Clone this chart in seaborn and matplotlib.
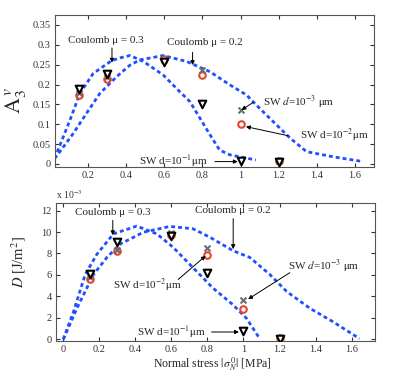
"""
Rebuild of the A3v / D versus normal stress figure (Coulomb vs SW).
"""

import matplotlib
matplotlib.use("Agg")
import matplotlib.pyplot as plt
import seaborn as sns

# marker data (sigma_N in MPa)
stress = [0.15, 0.3, 0.6, 0.8, 1.0, 1.2]
A_sw1 = [0.188, 0.227, 0.257, 0.150, 0.008, 0.006]   # d = 1e-1 um
A_sw2 = [0.174, 0.215, 0.264, 0.224, 0.101, 0.008]   # d = 1e-2 um
A_sw3 = [0.178, 0.220, 0.262, 0.237, 0.136, 0.007]   # d = 1e-3 um
D_sw1 = [6.10, 9.04, 9.60, 6.14, 0.76, 0.07]         # x 1e-3 J/m2
D_sw2 = [5.67, 8.20, 9.70, 7.85, 2.84, 0.10]
D_sw3 = [5.80, 8.30, 9.90, 8.50, 3.69, 0.05]

# Coulomb curves
A_mu03_x = [0, 0.035, 0.105, 0.157, 0.227, 0.323, 0.367, 0.42, 0.49, 0.594,
            0.664, 0.734, 0.787, 0.84, 0.89, 0.944, 1.08]
A_mu03_y = [0, 0.027, 0.111, 0.178, 0.228, 0.260, 0.267, 0.273, 0.258, 0.224,
            0.19, 0.157, 0.115, 0.073, 0.035, 0.023, 0.010]
A_mu02_x = [0, 0.035, 0.122, 0.192, 0.262, 0.35, 0.42, 0.472, 0.594, 0.717,
            0.84, 0.944, 1.03, 1.10, 1.17, 1.26, 1.346, 1.486, 1.643]
A_mu02_y = [0, 0.02, 0.077, 0.128, 0.178, 0.22, 0.249, 0.262, 0.273, 0.258,
            0.232, 0.199, 0.174, 0.14, 0.107, 0.065, 0.031, 0.018, 0.006]
D_mu03_x = [0, 0.057, 0.122, 0.187, 0.279, 0.408, 0.519, 0.61, 0.72, 0.83,
            0.943, 1.017, 1.09]
D_mu03_y = [0, 2.58, 6.05, 7.94, 9.83, 10.55, 9.83, 8.57, 6.68, 4.79,
            3.21, 1.96, 0.07]
D_mu02_x = [0, 0.076, 0.168, 0.242, 0.316, 0.445, 0.592, 0.72, 0.814, 0.943,
            1.035, 1.146, 1.239, 1.368, 1.497, 1.644]
D_mu02_y = [0, 2.9, 6.05, 7.63, 8.88, 9.98, 10.52, 10.3, 9.51, 8.25,
            7.63, 6.05, 4.47, 2.9, 1.64, 0.07]

A_yticks = [0, 0.05, 0.1, 0.15, 0.2, 0.25, 0.3, 0.35]
A_xticks = [0.2, 0.4, 0.6, 0.8, 1.0, 1.2, 1.4, 1.6]
D_yticks = [0, 2, 4, 6, 8, 10, 12]
D_xticks = [0, 0.2, 0.4, 0.6, 0.8, 1.0, 1.2, 1.4, 1.6]

BLUE = "#1f4fff"
RED = "#e8432b"
GRAY = "#6e6e6e"

sns.set_style("ticks")
plt.rcParams["font.family"] = ["Liberation Serif", "DejaVu Serif"]
plt.rcParams["mathtext.fontset"] = "stix"


def fmt(v):
    return f"{v:g}"


def draw_panel(ax, curves, sw1, sw2, sw3):
    for cx, cy in curves:
        sns.lineplot(x=cx, y=cy, ax=ax, color=BLUE, lw=2.0, sort=False,
                     linestyle=(0, (1.4, 1.1)), zorder=2)
    sns.scatterplot(x=stress, y=sw2, ax=ax, marker="o", s=22, color="white",
                    edgecolor=RED, linewidth=1.5, zorder=3)
    sns.scatterplot(x=stress, y=sw3, ax=ax, marker="x", s=18, color=GRAY,
                    linewidth=1.5, zorder=4)
    sns.scatterplot(x=stress, y=sw1, ax=ax, marker="v", s=30, color="white",
                    edgecolor="black", linewidth=1.5, zorder=5)
    ax.tick_params(direction="in", top=True, right=True, length=3,
                   labelsize=7.5, colors="#333333", pad=3)
    for sp in ax.spines.values():
        sp.set_color("#555555")
        sp.set_linewidth(0.8)
        sp.set_visible(True)


def note(ax, text, xy_text, tail=None, tip=None, fs=8):
    ax.text(xy_text[0], xy_text[1], text, fontsize=fs, ha="left",
            va="center", zorder=6)
    if tail is not None:
        ax.annotate("", xy=tip, xytext=tail,
                    arrowprops=dict(arrowstyle="-|>", lw=0.7, color="black",
                                    mutation_scale=6, shrinkA=0, shrinkB=0),
                    zorder=6)


fig = plt.figure(figsize=(4.15, 3.74), dpi=100)
ax1 = fig.add_axes([0.1325, 0.5535, 0.7687, 0.4064])
ax2 = fig.add_axes([0.135, 0.0882, 0.7687, 0.369])

# top panel: A3v
draw_panel(ax1, [(A_mu03_x, A_mu03_y), (A_mu02_x, A_mu02_y)],
           A_sw1, A_sw2, A_sw3)
ax1.set_xlim(0.026, 1.70)
ax1.set_ylim(-0.0076, 0.375)
ax1.set_xticks(A_xticks)
ax1.set_xticklabels([fmt(v) for v in A_xticks])
ax1.set_yticks(A_yticks)
ax1.set_yticklabels([fmt(v) for v in A_yticks])
ax1.set_ylabel(r"$\mathrm{A}_3^{\,v}$", fontsize=16)
ax1.yaxis.set_label_coords(-0.085, 0.44)

note(ax1, "Coulomb \u03bc = 0.3", (0.094, 0.31), (0.325, 0.292), (0.325, 0.255))
note(ax1, "Coulomb \u03bc = 0.2", (0.614, 0.305), (0.748, 0.281), (0.748, 0.249))
note(ax1, r"SW $d$=10$^{-3}$ $\mathrm{\mu}$m", (1.118, 0.155),
     (1.066, 0.155), (1.005, 0.136))
note(ax1, r"SW d=10$^{-2}$$\mathrm{\mu}$m", (1.311, 0.071),
     (1.25, 0.071), (1.028, 0.094))
note(ax1, r"SW d=10$^{-1}$$\mathrm{\mu}$m", (0.468, 0.0076),
     (0.865, 0.006), (0.985, 0.006))

# bottom panel: D
draw_panel(ax2, [(D_mu03_x, D_mu03_y), (D_mu02_x, D_mu02_y)],
           D_sw1, D_sw2, D_sw3)
ax2.set_xlim(-0.04, 1.73)
ax2.set_ylim(-0.15, 12.7)
ax2.set_xticks(D_xticks)
ax2.set_xticklabels([fmt(v) for v in D_xticks])
ax2.set_yticks(D_yticks)
ax2.set_yticklabels([fmt(v) for v in D_yticks])
ax2.set_ylabel(r"$D$ [J/m$^2$]", fontsize=10.5)
ax2.yaxis.set_label_coords(-0.088, 0.57)
ax2.set_xlabel(r"Normal stress $|\sigma_N^{\,0}|$ [MPa]", fontsize=8.5)
ax2.xaxis.set_label_coords(0.49, -0.11)
ax2.text(0.0, 1.015, r"x 10$^{-3}$", transform=ax2.transAxes, fontsize=7,
         ha="left", va="bottom", color="#333333")

note(ax2, "Coulomb \u03bc = 0.3", (0.066, 11.8), (0.275, 11.09), (0.275, 9.7))
note(ax2, "Coulomb \u03bc = 0.2", (0.731, 11.98), (0.943, 11.25), (0.943, 8.41))
note(ax2, r"SW d=10$^{-2}$$\mathrm{\mu}$m", (0.277, 5.01),
     (0.638, 5.58), (0.79, 7.78))
note(ax2, r"SW $d$=10$^{-3}$ $\mathrm{\mu}$m", (1.246, 6.83),
     (1.257, 6.21), (1.026, 3.75))
note(ax2, r"SW d=10$^{-1}$$\mathrm{\mu}$m", (0.41, 0.69),
     (0.823, 0.69), (0.975, 0.69))

fig.savefig("out.png", dpi=100)
